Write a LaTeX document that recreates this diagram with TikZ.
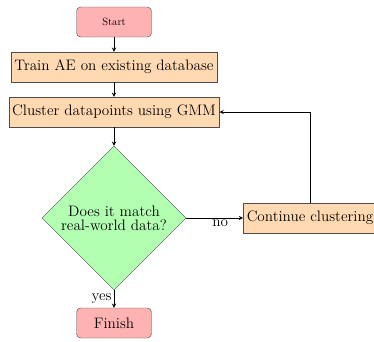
\documentclass[tikz,border=0pt]{standalone}
\usetikzlibrary{shapes.geometric}
\begin{document}
\begin{tikzpicture}[
        startstop/.style={rectangle, rounded corners, minimum width=2.5cm, minimum height=1cm, draw=black!70, fill=red!30},
        process/.style={rectangle, minimum height=1cm, draw=black!70, fill=orange!30, font=\Large},
        decision/.style={diamond, aspect=1, minimum size=4.8cm, inner sep=0pt, align=center, draw=black!70, fill=green!30, font=\fontsize{14.4}{13}\selectfont},
        arrow/.style={thick,->,>=stealth}]
        \useasboundingbox (0,0) rectangle (12.467,11.367);
        \node[startstop](start) at (3.8,10.633){Start};
        \node[process](train) at (3.8,9.133){Train AE on existing database};
        \node[process](cluster) at (3.8,7.633){Cluster datapoints using GMM};
        \node[decision](match) at (3.8,4.1){Does it match\\real-world data?};
        \node[process](cont) at (10.333,4.1){Continue clustering};
        \node[startstop, font=\Large](finish) at (3.8,0.6){Finish};
        \draw[arrow](start)--(train);
        \draw[arrow](train)--(cluster);
        \draw[arrow](cluster)--(match);
        \draw[arrow](match)--(cont)node[pos=0.6, below, inner sep=1pt, font=\Large]{no};
        \draw[arrow](match)--(finish)node[midway, left, inner sep=2pt, font=\Large]{yes};
        \draw[arrow](cont.north)|-(cluster.east);
    \end{tikzpicture}
\end{document}
